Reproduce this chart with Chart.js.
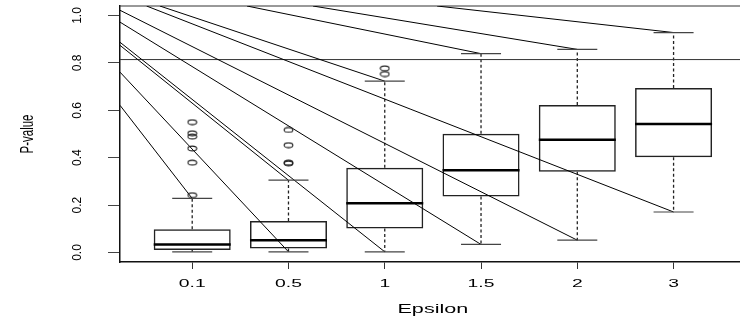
<!DOCTYPE html>
<html><head><meta charset="utf-8">
<script src="https://cdn.jsdelivr.net/npm/chart.js@4.4.1/dist/chart.umd.min.js"></script>
<style>html,body{margin:0;padding:0;background:#fff}#wrap{width:740px;height:321px}</style>
</head><body><div id="wrap"><canvas id="c" width="740" height="321"></canvas></div>
<script>
// ---- data ----
const categories = ['0.1', '0.5', '1', '1.5', '2', '3'];
const positions = [1, 2, 3, 4, 5, 6];
const whiskerLow = [0.003, 0.003, 0.003, 0.034, 0.052, 0.171];
const q1 = [0.011, 0.017, 0.101, 0.236, 0.341, 0.402];
const median = [0.034, 0.052, 0.208, 0.347, 0.476, 0.542];
const q3 = [0.098, 0.133, 0.358, 0.501, 0.622, 0.694];
const whiskerHigh = [0.228, 0.305, 0.723, 0.839, 0.857, 0.928];
const outlierCat = [1, 1, 1, 1, 1, 1, 2, 2, 2, 2, 3, 3];
const outlierVal = [0.550, 0.503, 0.489, 0.439, 0.379, 0.242, 0.517, 0.453, 0.379, 0.376, 0.777, 0.753];
const yTicks = [0, 0.2, 0.4, 0.6, 0.8, 1.0];
const yTickLabels = ['0.0', '0.2', '0.4', '0.6', '0.8', '1.0'];
const refLine = 0.814;
const xMin = 0.25, xMax = 6.69, yMin = -0.04, yMax = 1.04;
const lineStartX = [0.25, 0.25, 0.25, 0.25, 0.25, 0.25, 0.526, 0.664, 1.569, 2.255, 3.544];
const lineStartY = [0.621, 0.761, 0.874, 0.887, 0.972, 1.022, 1.04, 1.04, 1.04, 1.04, 1.04];
const lineEndX = [1, 2, 2, 3, 4, 5, 6, 3, 4, 5, 6];
const lineEndY = [0.228, 0.003, 0.305, 0.003, 0.034, 0.052, 0.171, 0.723, 0.839, 0.857, 0.928];
const xTitle = 'Epsilon';
const yTitle = 'P-value';

// ---- derived datasets ----
const boxData = positions.map((p, i) => ({x: p, y: [q1[i], q3[i]]}));
const medData = positions.map((p, i) => ({x: p, y: median[i]}));
const capData = [];
const whiskData = [];
positions.forEach((p, i) => {
  capData.push({x: p, y: whiskerLow[i]}, {x: p, y: whiskerHigh[i]});
  whiskData.push({x: p, y: q3[i]}, {x: p, y: whiskerHigh[i]}, {x: p, y: null},
                 {x: p, y: q1[i]}, {x: p, y: whiskerLow[i]}, {x: p, y: null});
});
const outData = outlierCat.map((c, i) => ({x: c, y: outlierVal[i]}));
const diagData = [];
lineStartX.forEach((sx, i) => {
  diagData.push({x: sx, y: lineStartY[i]}, {x: lineEndX[i], y: lineEndY[i]}, {x: lineEndX[i], y: null});
});

// ellipse marker (stretched circle as in the reference)
const ell = document.createElement('canvas');
ell.width = 11; ell.height = 7;
(function(){const c = ell.getContext('2d'); c.strokeStyle = '#222'; c.lineWidth = 1.1;
  c.beginPath(); c.ellipse(5.5, 3.5, 4.4, 2.4, 0, 0, Math.PI * 2); c.stroke();})();

const textPlugin = {
  id: 'texts',
  afterDraw(chart) {
    const ctx = chart.ctx, xs = chart.scales.x, ys = chart.scales.y;
    ctx.save();
    ctx.fillStyle = '#000';
    ctx.font = "11.5px 'Liberation Sans', Arial, sans-serif";
    ctx.textAlign = 'center'; ctx.textBaseline = 'alphabetic';
    positions.forEach((p, i) => {
      ctx.save(); ctx.translate(xs.getPixelForValue(p), 286.5); ctx.scale(1.68, 1);
      ctx.fillText(categories[i], 0, 0); ctx.restore();
    });
    ctx.font = "13.5px 'Liberation Sans', Arial, sans-serif";
    ctx.save(); ctx.translate(xs.getPixelForValue((positions[0] + positions[positions.length - 1]) / 2), 313);
    ctx.scale(1.6, 1); ctx.fillText(xTitle, 0, 0); ctx.restore();
    ctx.font = "12px 'Liberation Sans Narrow', 'Liberation Sans', Arial, sans-serif";
    yTicks.forEach((v, i) => {
      ctx.save(); ctx.translate(80.5, ys.getPixelForValue(v)); ctx.rotate(-Math.PI / 2);
      ctx.fillText(yTickLabels[i], 0, 0); ctx.restore();
    });
    ctx.font = "11.5px 'Liberation Sans', Arial, sans-serif";
    ctx.save(); ctx.translate(33, ys.getPixelForValue((yMin + yMax) / 2)); ctx.scale(1.6, 1); ctx.rotate(-Math.PI / 2);
    ctx.fillText(yTitle, 0, 0); ctx.restore();
    ctx.restore();
  }
};

new Chart(document.getElementById('c'), {
  type: 'scatter',
  data: {
    datasets: [
      {type: 'line', data: diagData, borderColor: '#000', borderWidth: 1, pointRadius: 0, spanGaps: false, order: 1},
      {type: 'line', data: [{x: xMin, y: refLine}, {x: xMax, y: refLine}], borderColor: '#333', borderWidth: 1, pointRadius: 0, order: 1},
      {type: 'line', data: [{x: xMin, y: yMax}, {x: xMax, y: yMax}], borderColor: '#333', borderWidth: 1, pointRadius: 0, clip: false, order: 1},
      {type: 'bar', data: boxData, backgroundColor: 'rgba(0,0,0,0)', borderColor: '#222', borderWidth: 1.5,
        borderSkipped: false, categoryPercentage: 0.8, barPercentage: 1.0, order: 2},
      {type: 'line', data: whiskData, borderColor: '#222', borderWidth: 1.3, borderDash: [3, 2.5], pointRadius: 0, spanGaps: false, order: 2},
      {type: 'scatter', data: medData, pointStyle: 'line', pointRadius: 38.5, borderWidth: 2.5, borderColor: '#000', order: 0},
      {type: 'scatter', data: capData, pointStyle: 'line', pointRadius: 20, borderWidth: 1.2, borderColor: '#444', order: 0},
      {type: 'scatter', data: outData, pointStyle: ell, order: 0}
    ]
  },
  options: {
    responsive: false, animation: false, devicePixelRatio: 1, events: [],
    layout: {autoPadding: false, padding: {top: 6, left: 0, right: 0, bottom: 0}},
    plugins: {legend: {display: false}, tooltip: {enabled: false}},
    scales: {
      x: {type: 'linear', min: xMin, max: xMax, offset: false,
        afterBuildTicks: s => { s.ticks = positions.map(v => ({value: v})); },
        afterFit: s => { s.height = 59; },
        ticks: {display: false},
        grid: {drawOnChartArea: false, drawTicks: true, tickLength: 7, color: '#333', lineWidth: 1, offset: false},
        border: {display: true, color: '#111', width: 1.5}},
      y: {type: 'linear', min: yMin, max: yMax,
        afterBuildTicks: s => { s.ticks = yTicks.map(v => ({value: v})); },
        afterFit: s => { s.width = 120; },
        ticks: {display: false},
        grid: {drawOnChartArea: false, drawTicks: true, tickLength: 12, color: '#444', lineWidth: 1},
        border: {display: true, color: '#111', width: 1.5}}
    }
  },
  plugins: [textPlugin]
});
</script></body></html>
